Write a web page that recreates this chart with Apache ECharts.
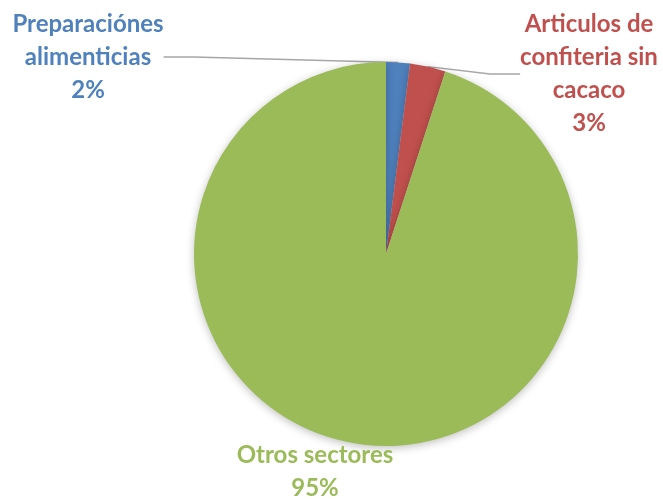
<!DOCTYPE html>
<html>
<head>
<meta charset="utf-8">
<script src="https://cdn.jsdelivr.net/npm/echarts@6/dist/echarts.min.js"></script>
<style>html,body{margin:0;padding:0;background:#fff;}#c{width:663px;height:499px;}</style>
</head>
<body>
<div id="c"></div>
<script>
const categories = ['Preparaciónes\nalimenticias', 'Articulos de\nconfiteria sin\ncacaco', 'Otros sectores'];
const values = [2, 3, 95];
const colors = ['#4F81BD', '#C0504D', '#9BBB59'];
const labelPos = [[88, 57], [589, 74], [315, 472]];

const chart = echarts.init(document.getElementById('c'), null, {renderer: 'canvas'});
chart.setOption({
  animation: false,
  series: [{
    type: 'pie',
    center: [386, 254],
    radius: [0, 192],
    startAngle: 90,
    clockwise: true,
    avoidLabelOverlap: false,
    data: categories.map((n, i) => ({
      name: n,
      value: values[i],
      itemStyle: {color: colors[i]},
      label: {color: colors[i]},
      labelLine: {show: i < 2}
    })),
    itemStyle: {shadowBlur: 8, shadowColor: 'rgba(0,0,0,0.25)', shadowOffsetY: 2},
    label: {
      show: true,
      position: 'outside',
      formatter: p => p.name + '\n' + Math.round(p.percent) + '%',
      fontFamily: 'Lato',
      fontWeight: 'bold',
      fontSize: 24,
      lineHeight: 33,
      align: 'center'
    },
    labelLine: {
      show: true,
      lineStyle: {color: '#A6A6A6', width: 1.5}
    },
    labelLayout: function (p) {
      const pos = labelPos[p.dataIndex];
      return {x: pos[0], y: pos[1], align: 'center', verticalAlign: 'middle'};
    }
  }]
});
</script>
</body>
</html>
